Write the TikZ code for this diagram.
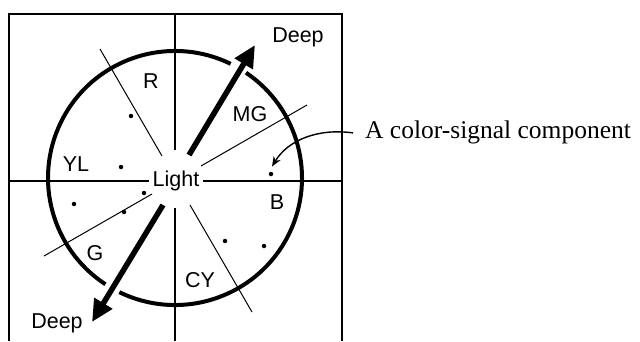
\documentclass[tikz,border=0pt]{standalone}
\usepackage{fontspec}
\setmainfont{Liberation Serif}
\newfontfamily\lblfont{Liberation Sans}
\usetikzlibrary{arrows.meta,calc}
\begin{document}
\begin{tikzpicture}[x=1pt,y=-1pt,
  lbl/.style={font=\lblfont\fontsize{21.5}{24}\selectfont, inner sep=0pt},
  frameline/.style={line width=2.2pt},
  divider/.style={line width=1pt},
  ring/.style={line width=4pt},
  deeparrow/.style={line width=5.5pt, -{Triangle[length=22pt,width=20pt]}},
  dotmark/.style={circle, fill=black, inner sep=0pt, minimum size=4.5pt},
  pointer/.style={line width=1.4pt, -{Stealth[length=10pt,width=8pt]}}]
\useasboundingbox (0,0) rectangle (640,341);
\coordinate (c) at (175,178);
% frame and axes
\draw[frameline] (9,341) -- (9,14) -- (342,14) -- (342,341);
\draw[frameline] (175,14) -- (175,150);
\draw[frameline] (175,208) -- (175,341);
\draw[frameline] (9,181) -- (149,181);
\draw[frameline] (203,181) -- (342,181);
% circle with gaps
\draw[ring] ($(c)+(-64:127)$) arc[start angle=-64, end angle=-236.8, radius=127];
\draw[ring] ($(c)+(-244:127)$) arc[start angle=-244, end angle=-416, radius=127];
% dividers
\draw[divider] (100,49) -- (162,156);
\draw[divider] (307,105) -- (201,166);
\draw[divider] (44,256) -- (152,194);
\draw[divider] (190,205) -- (252,312);
% thick arrows
\draw[deeparrow] (189,155) -- (255,45);
\draw[deeparrow] (163,205) -- (92,322);
% dots
\node[dotmark] (d1) at (131,116) {};
\node[dotmark] (d2) at (121,167) {};
\node[dotmark] (d3) at (144,193) {};
\node[dotmark] (d4) at (124,212) {};
\node[dotmark] (d5) at (74,204) {};
\node[dotmark] (d6) at (271,174) {};
\node[dotmark] (d7) at (225,241) {};
\node[dotmark] (d8) at (264,246) {};
% labels
\node[lbl] (light) at (176,181) {Light};
\node[lbl] (r) at (151,81) {R};
\node[lbl] (mg) at (250,114) {MG};
\node[lbl] (yl) at (76,164) {YL};
\node[lbl] (b) at (277,202) {B};
\node[lbl] (g) at (95,253) {G};
\node[lbl] (cy) at (200,280) {CY};
\node[lbl] (deep1) at (298,37) {Deep};
\node[lbl] (deep2) at (57,323) {Deep};
% annotation
\node[anchor=base west, inner sep=0pt, font=\fontsize{25.5}{28}\selectfont] (ann) at (365,138) {A color-signal component};
\draw[pointer] ([xshift=-12pt,yshift=-1pt]ann.west) .. controls (318,128) and (288,140) .. ([xshift=1pt,yshift=5pt]d6.north);
\end{tikzpicture}
\end{document}
